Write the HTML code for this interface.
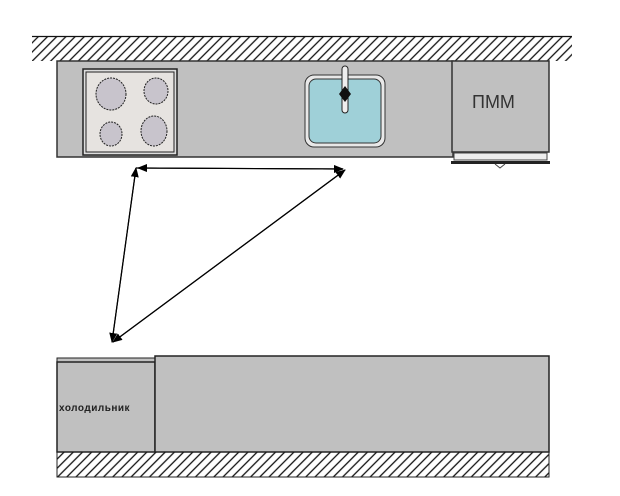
<!DOCTYPE html>
<html><head><meta charset="utf-8"><style>body{margin:0;background:#fff}svg{display:block}</style></head><body>
<svg width="620" height="496" viewBox="0 0 620 496" xmlns="http://www.w3.org/2000/svg" font-family="Liberation Sans, sans-serif">
<defs>
<pattern id="h" width="6.5" height="6.5" patternUnits="userSpaceOnUse" patternTransform="rotate(45)">
<line x1="1" y1="0" x2="1" y2="6.5" stroke="#111" stroke-width="1.3"/>
</pattern>
<marker id="a" markerWidth="10" markerHeight="8" refX="9" refY="4" orient="auto" markerUnits="userSpaceOnUse">
<path d="M0,0 L10,4 L0,8 Z" fill="#000"/></marker>
</defs>
<rect x="32" y="37" width="540" height="24" fill="url(#h)"/>
<line x1="32" y1="36.5" x2="572" y2="36.5" stroke="#111" stroke-width="1.2"/>
<rect x="57" y="61" width="396" height="96" fill="#c0c0c0" stroke="#333" stroke-width="1.5"/>
<rect x="452" y="61" width="97" height="91" fill="#c0c0c0" stroke="#333" stroke-width="1.5"/>
<rect x="454" y="153" width="93" height="7" fill="#eee" stroke="#444" stroke-width="1"/>
<rect x="451" y="161" width="99" height="3" fill="#222"/>
<path d="M495,164 L500,168 L505,164" fill="none" stroke="#444" stroke-width="1"/>
<text x="472" y="108" font-size="18" fill="#333">ПММ</text>
<rect x="83" y="69" width="94" height="86" fill="#ddd" stroke="#222" stroke-width="1.5"/>
<rect x="86" y="72" width="88" height="80" fill="#e6e3e0" stroke="#222" stroke-width="1"/>
<g fill="#c8c4cc" stroke="#222" stroke-width="1" stroke-dasharray="2,1">
<ellipse cx="111" cy="94" rx="15" ry="16"/>
<ellipse cx="156" cy="91" rx="12" ry="13"/>
<ellipse cx="111" cy="134" rx="11" ry="12"/>
<ellipse cx="154" cy="131" rx="13" ry="15"/>
</g>
<rect x="305" y="75" width="80" height="72" rx="9" fill="#e8e8e8" stroke="#333" stroke-width="1"/>
<rect x="309" y="79" width="72" height="64" rx="7" fill="#9fd0d8" stroke="#333" stroke-width="1"/>
<rect x="342" y="66" width="6" height="47" rx="3" fill="#eee" stroke="#222" stroke-width="1"/>
<path d="M345,86 L351,94 L345,102 L339,94 Z" fill="#111"/>
<g stroke="#000" stroke-width="1.2" fill="none">
<line x1="136" y1="168" x2="343" y2="169" marker-end="url(#a)"/>
<line x1="343" y1="169" x2="138" y2="168" marker-end="url(#a)"/>
<line x1="112" y1="342" x2="136" y2="168" marker-end="url(#a)"/>
<line x1="136" y1="168" x2="112" y2="342" marker-end="url(#a)"/>
<line x1="345" y1="170" x2="113" y2="342" marker-end="url(#a)"/>
<line x1="113" y1="342" x2="345" y2="170" marker-end="url(#a)"/>
</g>
<rect x="57" y="358" width="98" height="4" fill="#c0c0c0" stroke="#222" stroke-width="1"/>
<rect x="57" y="362" width="98" height="90" fill="#c0c0c0" stroke="#222" stroke-width="1.5"/>
<rect x="155" y="356" width="394" height="96" fill="#c0c0c0" stroke="#222" stroke-width="1.5"/>
<text x="59" y="411" font-size="10" font-weight="bold" fill="#222" letter-spacing="0.5">холодильник</text>
<rect x="57" y="452" width="492" height="25" fill="url(#h)" stroke="#222" stroke-width="1"/>
</svg>
</body></html>
